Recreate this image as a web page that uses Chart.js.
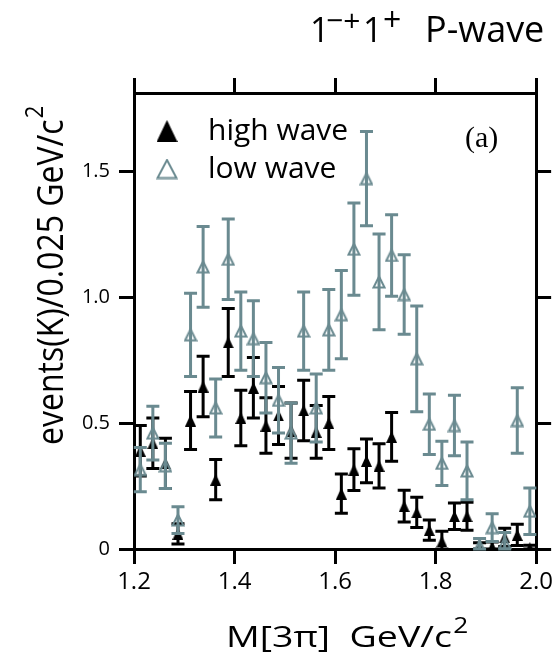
<!DOCTYPE html>
<html lang="en">
<head>
  <meta charset="UTF-8">
  <title>1-+1+ P-wave</title>
  <script src="https://cdn.jsdelivr.net/npm/chart.js@4/dist/chart.umd.min.js"></script>
  <style>
    body { margin: 0; background: #fff; }
    .chart-box { position: relative; width: 557px; height: 655px; }
  </style>
</head>
<body>
  <div class="chart-box"><canvas id="waveChart"></canvas></div>
  <script>
    // M[3pi] bin centres (GeV/c^2)
    const massBins = [1.2125, 1.2375, 1.2625, 1.2875, 1.3125, 1.3375, 1.3625, 1.3875,
      1.4125, 1.4375, 1.4625, 1.4875, 1.5125, 1.5375, 1.5625, 1.5875,
      1.6125, 1.6375, 1.6625, 1.6875, 1.7125, 1.7375, 1.7625, 1.7875,
      1.8125, 1.8375, 1.8625, 1.8875, 1.9125, 1.9375, 1.9625, 1.9875];
    // high wave (filled black)
    const highWave = [0.39, 0.42, 0.34, 0.06, 0.51, 0.645, 0.275, 0.82,
      0.52, 0.64, 0.49, 0.53, 0.47, 0.55, 0.465, 0.50,
      0.22, 0.315, 0.35, 0.33, 0.445, 0.17, 0.145, 0.075,
      0.03, 0.13, 0.13, 0.005, 0.008, 0.046, 0.056, 0.003];
    const highErr = [0.10, 0.10, 0.10, 0.04, 0.115, 0.12, 0.08, 0.135,
      0.11, 0.12, 0.11, 0.115, 0.11, 0.12, 0.105, 0.105,
      0.078, 0.083, 0.087, 0.088, 0.097, 0.063, 0.06, 0.04,
      0.04, 0.053, 0.056, 0.02, 0.02, 0.036, 0.042, 0.012];
    // low wave (open grey)
    const lowWave = [0.315, 0.46, 0.33, 0.115, 0.85, 1.12, 0.56, 1.15,
      0.865, 0.835, 0.68, 0.59, 0.46, 0.865, 0.56, 0.87,
      0.93, 1.19, 1.47, 1.06, 1.165, 1.01, 0.755, 0.495,
      0.34, 0.49, 0.31, 0.012, 0.085, 0.025, 0.51, 0.15];
    const lowErr = [0.088, 0.107, 0.09, 0.053, 0.165, 0.16, 0.115, 0.16,
      0.155, 0.15, 0.14, 0.13, 0.12, 0.155, 0.135, 0.16,
      0.175, 0.183, 0.187, 0.19, 0.162, 0.158, 0.21, 0.12,
      0.088, 0.12, 0.115, 0.03, 0.055, 0.04, 0.13, 0.092];

    const GREY = '#6a8a90';
    const FONT = "'Open Sans', sans-serif";

    function triangle(w, h, color, filled, lw) {
      const c = document.createElement('canvas');
      c.width = w; c.height = h;
      const g = c.getContext('2d');
      const p = filled ? 0 : lw / 2 + 0.5;
      g.beginPath();
      g.moveTo(w / 2, p);
      g.lineTo(w - p, h - p);
      g.lineTo(p, h - p);
      g.closePath();
      if (filled) { g.fillStyle = color; g.fill(); }
      else { g.strokeStyle = color; g.lineWidth = lw; g.stroke(); }
      return c;
    }
    const blackTri = triangle(11, 12, '#000', true);
    const greyTri = triangle(14, 14, GREY, false, 2);
    const blackTriBig = triangle(21, 22, '#000', true);
    const greyTriBig = triangle(22, 21, GREY, false, 2);

    // vertical error bars with caps, drawn under each dataset's markers
    const errorBars = {
      id: 'errorBars',
      beforeDatasetDraw(chart, args) {
        const ds = chart.data.datasets[args.index];
        const xs = chart.scales.x, ys = chart.scales.y;
        const ctx = chart.ctx;
        ctx.save();
        ctx.strokeStyle = ds.barColor;
        ctx.lineWidth = 3;
        ds.data.forEach((p, i) => {
          const e = ds.errors[i];
          const px = xs.getPixelForValue(p.x);
          const top = ys.getPixelForValue(p.y + e);
          const bot = ys.getPixelForValue(Math.max(p.y - e, 0));
          ctx.beginPath();
          ctx.moveTo(px, top); ctx.lineTo(px, bot);
          ctx.moveTo(px - 6.5, top); ctx.lineTo(px + 6.5, top);
          ctx.moveTo(px - 6.5, bot); ctx.lineTo(px + 6.5, bot);
          ctx.stroke();
        });
        ctx.restore();
      }
    };

    // text pieces: [text, fontSize, x, baselineY]
    function drawPieces(ctx, pieces) {
      pieces.forEach(([t, size, x, y]) => {
        ctx.font = size + 'px ' + FONT;
        ctx.fillText(t, x, y);
      });
    }

    const annotations = {
      id: 'annotations',
      afterDraw(chart) {
        const ctx = chart.ctx;
        ctx.save();
        ctx.fillStyle = '#000';
        ctx.textAlign = 'left';
        ctx.textBaseline = 'alphabetic';

        // title 1-+1+ P-wave
        drawPieces(ctx, [
          ['1', 34, 310, 42], ['\u2212+', 30, 326, 31],
          ['1', 34, 363, 42], ['+', 32, 383, 31],
          ['P-wave', 36, 425, 42]
        ]);

        // legend
        ctx.drawImage(blackTriBig, 167 - 10.5, 131 - 11);
        ctx.drawImage(greyTriBig, 167 - 11, 169 - 10.5);
        ctx.font = '30px ' + FONT;
        ctx.fillText('high wave', 208, 140);
        ctx.fillText('low wave', 208, 178);

        // panel label
        ctx.font = "30px 'Liberation Serif', serif";
        ctx.fillText('(a)', 465, 147);

        // x axis title, stretched wide like the original
        ctx.save();
        ctx.translate(226, 647);
        ctx.scale(1.25, 1);
        ctx.font = '30px ' + FONT;
        const xt = 'M[3\u03c0]  GeV/c';
        ctx.fillText(xt, 0, 0);
        const xw = ctx.measureText(xt).width;
        ctx.font = '21px ' + FONT;
        ctx.fillText('2', xw + 1, -14);
        ctx.restore();

        // y axis title
        ctx.save();
        ctx.translate(63, 445);
        ctx.rotate(-Math.PI / 2);
        ctx.scale(1, 1.15);
        ctx.font = '32px ' + FONT;
        const yt = 'events(K)/0.025 GeV/c';
        ctx.fillText(yt, 0, 0);
        const yw = ctx.measureText(yt).width;
        ctx.font = '22px ' + FONT;
        ctx.fillText('2', yw + 1, -17);
        ctx.restore();

        ctx.restore();
      }
    };

    const axisLook = {
      border: { display: true, width: 3, color: '#000' },
      grid: { drawOnChartArea: false, drawTicks: true, tickLength: 15, tickWidth: 3, tickColor: '#000', lineWidth: 3 }
    };

    new Chart(document.getElementById('waveChart'), {
      type: 'scatter',
      data: {
        datasets: [
          {
            label: 'high wave',
            data: massBins.map((m, i) => ({ x: m, y: highWave[i] })),
            errors: highErr,
            barColor: '#000',
            pointStyle: blackTri,
            pointRadius: 6,
            order: 2
          },
          {
            label: 'low wave',
            data: massBins.map((m, i) => ({ x: m, y: lowWave[i] })),
            errors: lowErr,
            barColor: GREY,
            pointStyle: greyTri,
            pointRadius: 7,
            order: 1
          }
        ]
      },
      options: {
        responsive: true,
        maintainAspectRatio: false,
        animation: false,
        layout: { padding: 0 },
        plugins: {
          legend: { display: false },
          tooltip: { enabled: false },
          title: { display: false }
        },
        scales: {
          x: {
            type: 'linear', position: 'bottom', min: 1.2, max: 2.0,
            ...axisLook,
            ticks: {
              stepSize: 0.2, padding: 4, color: '#000',
              font: { family: FONT, size: 24 },
              callback: v => Number(v).toFixed(1)
            },
            afterFit: s => { s.height = 106; }
          },
          x2: {
            type: 'linear', position: 'top', min: 1.2, max: 2.0,
            ...axisLook,
            ticks: { stepSize: 0.2, display: false },
            afterFit: s => { s.height = 93; }
          },
          y: {
            type: 'linear', position: 'left', min: 0, max: 1.81,
            ...axisLook,
            ticks: {
              stepSize: 0.5, includeBounds: false, padding: 9, color: '#000',
              font: { family: FONT, size: 20 },
              callback: v => v === 0 ? '0' : Number(v).toFixed(1)
            },
            afterFit: s => { s.width = 134; }
          },
          y2: {
            type: 'linear', position: 'right', min: 0, max: 1.81,
            ...axisLook,
            ticks: { stepSize: 0.5, includeBounds: false, display: false },
            afterFit: s => { s.width = 20; }
          }
        }
      },
      plugins: [errorBars, annotations]
    });
  </script>
</body>
</html>
